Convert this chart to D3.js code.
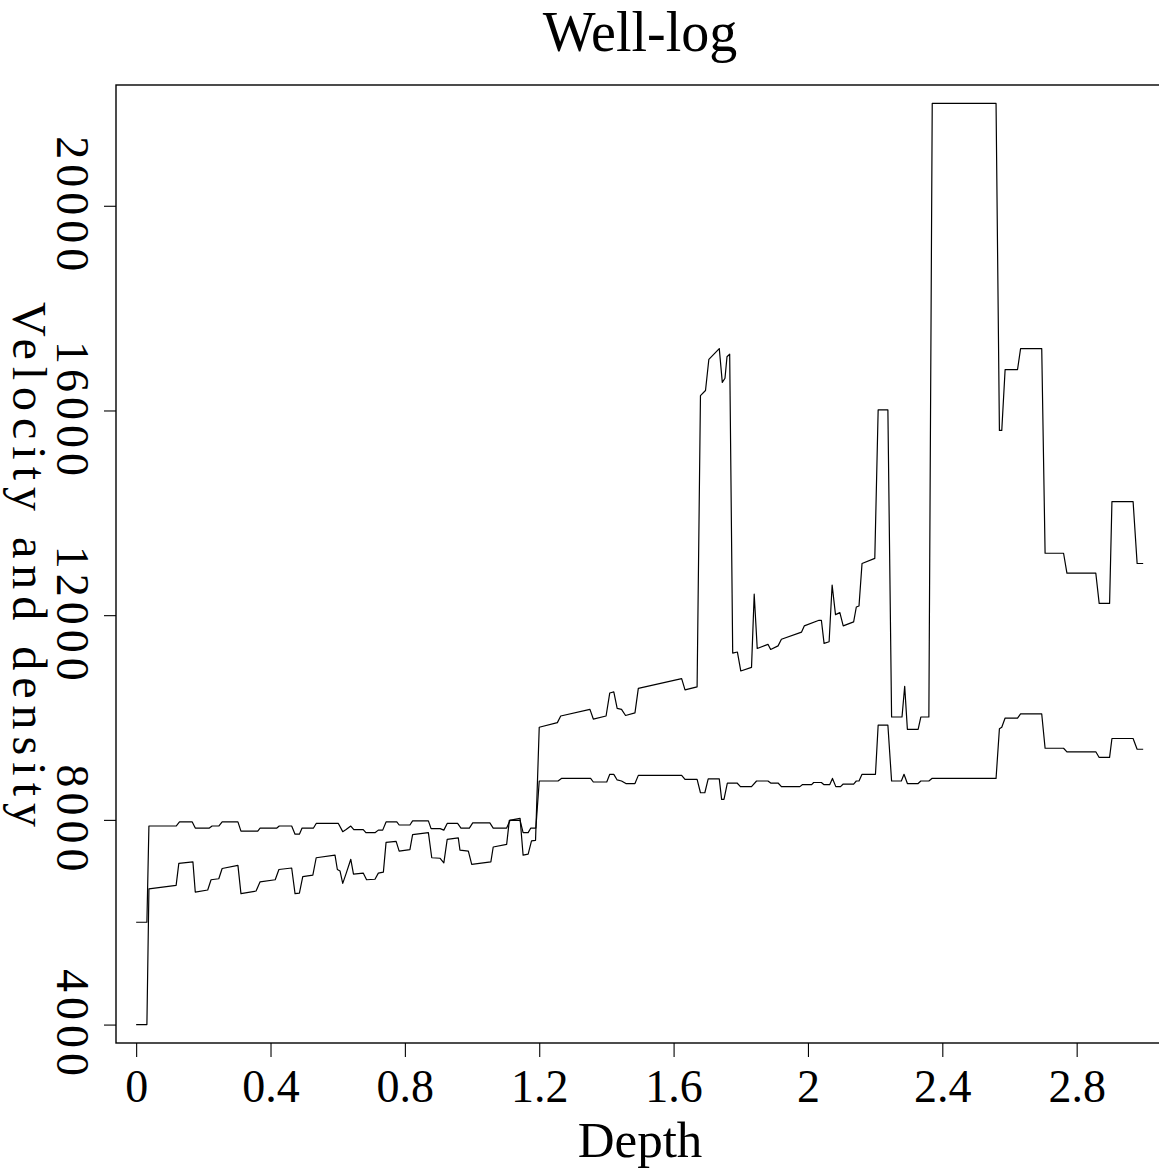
<!DOCTYPE html>
<html>
<head>
<meta charset="utf-8">
<script src="https://cdn.jsdelivr.net/npm/d3@7"></script>
<style>
  html, body { margin: 0; padding: 0; background: #fff; }
  svg { display: block; }
  text { font-family: "Liberation Serif", "DejaVu Serif", serif; fill: #000; }
</style>
</head>
<body>
<div id="chart"></div>
<script>
// ---- data ----
const velocityDepth = [0.000,0.032,0.038,0.119,0.127,0.169,0.176,0.213,0.223,0.246,0.256,0.303,0.312,0.357,0.369,0.414,0.425,0.463,0.473,0.486,0.496,0.526,0.536,0.592,0.599,0.607,0.615,0.625,0.639,0.647,0.676,0.686,0.711,0.721,0.736,0.744,0.774,0.783,0.815,0.823,0.870,0.880,0.905,0.916,0.926,0.959,0.964,0.989,0.999,1.056,1.063,1.103,1.111,1.143,1.152,1.167,1.177,1.189,1.200,1.254,1.264,1.351,1.361,1.399,1.410,1.422,1.432,1.445,1.457,1.485,1.495,1.624,1.634,1.670,1.680,1.695,1.705,1.736,1.745,1.753,1.759,1.767,1.776,1.790,1.800,1.832,1.840,1.849,1.881,1.889,1.911,1.921,1.981,1.989,2.033,2.040,2.048,2.063,2.072,2.082,2.095,2.105,2.136,2.144,2.152,2.161,2.199,2.209,2.238,2.249,2.280,2.288,2.296,2.328,2.336,2.360,2.370,2.560,2.570,2.577,2.587,2.624,2.633,2.696,2.706,2.761,2.771,2.857,2.867,2.898,2.905,2.968,2.980,2.998];
const velocity = [4000,4000,6650,6720,7150,7180,6590,6630,6830,6850,7050,7110,6560,6610,6790,6830,7030,7060,6560,6570,6890,6920,7260,7310,7030,7000,6760,6950,7230,6940,6960,6830,6840,6960,6980,7560,7580,7390,7420,7710,7750,7260,7250,7160,7620,7650,7410,7390,7130,7180,7470,7520,7990,8030,7310,7330,7590,7600,9810,9900,10030,10160,9970,10030,10480,10500,10180,10160,10040,10090,10570,10760,10540,10600,16290,16390,17000,17210,16550,16630,17050,17100,11260,11280,10910,10980,12410,11350,11430,11330,11400,11530,11670,11790,11900,11900,11450,11480,12590,12010,12050,11790,11870,12160,12180,13010,13110,16010,16010,10010,10010,10610,9770,9770,10010,10010,22000,22000,15610,15610,16800,16800,17210,17210,13210,13210,12820,12820,12230,12230,14220,14220,13010,13010];

const densityDepth = [0.000,0.032,0.038,0.119,0.129,0.167,0.176,0.218,0.226,0.246,0.256,0.303,0.312,0.362,0.369,0.419,0.426,0.463,0.473,0.486,0.494,0.528,0.536,0.602,0.615,0.625,0.639,0.648,0.676,0.684,0.711,0.721,0.734,0.744,0.776,0.783,0.815,0.823,0.870,0.878,0.905,0.916,0.926,0.957,0.967,0.992,1.002,1.053,1.063,1.103,1.113,1.143,1.152,1.167,1.175,1.190,1.200,1.256,1.266,1.353,1.361,1.401,1.410,1.422,1.432,1.445,1.458,1.485,1.495,1.624,1.634,1.670,1.680,1.693,1.703,1.736,1.743,1.750,1.760,1.789,1.799,1.832,1.847,1.881,1.889,1.911,1.921,1.976,1.984,2.011,2.017,2.040,2.047,2.065,2.073,2.083,2.097,2.105,2.136,2.144,2.152,2.161,2.201,2.209,2.238,2.249,2.278,2.286,2.296,2.328,2.336,2.360,2.369,2.560,2.570,2.577,2.587,2.624,2.633,2.696,2.706,2.761,2.771,2.857,2.867,2.898,2.905,2.968,2.980,2.998];
const density = [6000,6000,7880,7880,7960,7960,7840,7840,7880,7880,7960,7960,7780,7780,7840,7840,7880,7880,7720,7720,7840,7840,7930,7930,7770,7810,7880,7810,7810,7750,7750,7800,7800,7960,7960,7900,7900,7980,7980,7830,7830,7800,7930,7930,7840,7840,7940,7940,7840,7840,7990,7990,7750,7750,7840,7840,8760,8760,8810,8810,8740,8740,8890,8890,8780,8760,8710,8710,8870,8870,8790,8790,8530,8530,8800,8800,8400,8400,8720,8720,8650,8650,8760,8760,8720,8720,8650,8650,8690,8690,8730,8730,8690,8690,8810,8650,8650,8700,8700,8760,8760,8890,8890,9850,9850,8760,8760,8890,8710,8710,8760,8760,8810,8810,9780,9810,9990,9990,10070,10070,9400,9400,9330,9330,9220,9220,9590,9590,9380,9380];

const xTicks = [0, 0.4, 0.8, 1.2, 1.6, 2.0, 2.4, 2.8];
const xTickLabels = ["0", "0.4", "0.8", "1.2", "1.6", "2", "2.4", "2.8"];
const yTicks = [4000, 8000, 12000, 16000, 20000];
const yTickLabels = ["4000", "8000", "12000", "16000", "20000"];

const titleText = "Well-log";
const xTitle = "Depth";
const yTitle = "Velocity and density";

// ---- layout ----
const W = 1159, H = 1170;
const plot = { left: 116, right: 1164, top: 85, bottom: 1043 };

const svg = d3.select("#chart").append("svg")
  .attr("width", W).attr("height", H)
  .attr("viewBox", `0 0 ${W} ${H}`);

const x = d3.scaleLinear().domain([-0.06, 3.06]).range([plot.left, plot.right]);
const y = d3.scaleLinear().domain([3640, 22360]).range([plot.bottom, plot.top]);

// box
svg.append("rect")
  .attr("x", plot.left).attr("y", plot.top)
  .attr("width", plot.right - plot.left).attr("height", plot.bottom - plot.top)
  .attr("fill", "none").attr("stroke", "#000").attr("stroke-width", 1.4);

// x axis
const xAxis = svg.append("g")
  .attr("transform", `translate(0,${plot.bottom})`)
  .call(d3.axisBottom(x).tickValues(xTicks).tickSize(14).tickSizeOuter(0)
        .tickFormat((d, i) => xTickLabels[i]));
xAxis.select(".domain").remove();
xAxis.selectAll(".tick line").attr("stroke", "#000").attr("stroke-width", 1.1);
xAxis.selectAll(".tick text")
  .attr("y", 59).attr("dy", 0)
  .style("font-size", "46px")
  .style("font-family", "'Liberation Serif', serif")
  .attr("fill", "#000");

// y axis
const yAxis = svg.append("g")
  .attr("transform", `translate(${plot.left},0)`)
  .call(d3.axisLeft(y).tickValues(yTicks).tickSize(12).tickSizeOuter(0)
        .tickFormat((d, i) => yTickLabels[i]));
yAxis.select(".domain").remove();
yAxis.selectAll(".tick line").attr("stroke", "#000").attr("stroke-width", 1.1);
yAxis.selectAll(".tick text").remove();
yAxis.selectAll(".tick").append("text")
  .attr("transform", "translate(-59,0) rotate(90)")
  .attr("text-anchor", "middle")
  .style("font-size", "46px")
  .style("letter-spacing", "5px")
  .attr("fill", "#000")
  .text((d, i) => yTickLabels[i]);

// lines
const line = d3.line().x(d => x(d[0])).y(d => y(d[1]));
const velPts = velocityDepth.map((d, i) => [d, velocity[i]]);
const denPts = densityDepth.map((d, i) => [d, density[i]]);

svg.append("path").datum(velPts)
  .attr("d", line).attr("fill", "none")
  .attr("stroke", "#000").attr("stroke-width", 1.2).attr("stroke-linejoin", "round");
svg.append("path").datum(denPts)
  .attr("d", line).attr("fill", "none")
  .attr("stroke", "#000").attr("stroke-width", 1.2).attr("stroke-linejoin", "round");

// titles
svg.append("text")
  .attr("x", (plot.left + plot.right) / 2).attr("y", 51)
  .attr("text-anchor", "middle")
  .style("font-size", "56px")
  .text(titleText);

svg.append("text")
  .attr("x", (plot.left + plot.right) / 2).attr("y", 1157)
  .attr("text-anchor", "middle")
  .style("font-size", "51px")
  .text(xTitle);

svg.append("text")
  .attr("transform", `translate(13,${(plot.top + plot.bottom) / 2 + 4}) rotate(90)`)
  .attr("text-anchor", "middle")
  .style("font-size", "48px")
  .style("letter-spacing", "7px")
  .text(yTitle);
</script>
</body>
</html>
